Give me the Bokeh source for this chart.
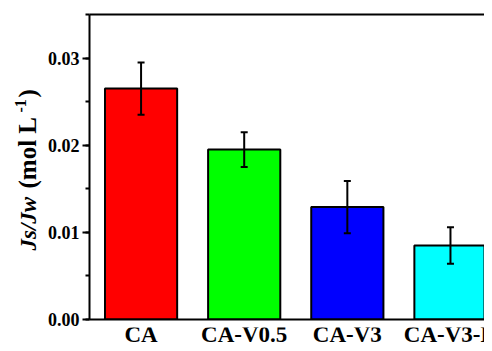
from bokeh.plotting import figure
from bokeh.layouts import row, column
from bokeh.models import (Range1d, FixedTicker, SingleIntervalTicker, LinearAxis,
                          ColumnDataSource, Whisker, TeeHead, Label, PrintfTickFormatter)
from bokeh.core.properties import value
from bokeh.embed import file_html
from bokeh.resources import INLINE

categories = ["CA", "CA-V0.5", "CA-V3", "CA-V3-D"]
values = [0.0265, 0.0195, 0.0129, 0.0085]
errors = [0.0030, 0.0020, 0.0030, 0.0021]
colors = ["#ff0000", "#00ff00", "#0000ff", "#00ffff"]

xs = list(range(len(categories)))
src = ColumnDataSource(dict(
    x=xs, top=values, color=colors, name=categories,
    upper=[v + e for v, e in zip(values, errors)],
    lower=[v - e for v, e in zip(values, errors)],
))

FONT = "Liberation Serif"
LEFT_W = 44

# ---------------- main plot ----------------
p = figure(width=484 - LEFT_W, height=327, output_backend="svg", toolbar_location=None,
           x_range=Range1d(-0.5, 3.33), y_range=Range1d(0, 0.035),
           min_border_left=88 - LEFT_W, min_border_right=0, min_border_top=14,
           min_border_bottom=8)
p.outline_line_color = None
p.xgrid.visible = False
p.ygrid.visible = False

p.vbar(x="x", top="top", width=0.7, fill_color="color", line_color="black",
       line_width=2, source=src)

w = Whisker(base="x", upper="upper", lower="lower", source=src, level="annotation",
            line_width=2, line_color="black",
            upper_head=TeeHead(size=7, line_width=2, line_color="black"),
            lower_head=TeeHead(size=7, line_width=2, line_color="black"))
p.add_layout(w)

xa = p.xaxis[0]
xa.ticker = FixedTicker(ticks=xs)
xa.major_label_text_font_size = "0px"
xa.major_tick_line_color = None
xa.minor_tick_line_color = None
xa.major_tick_out = 0
xa.major_tick_in = 0
xa.major_label_standoff = 0
xa.axis_line_width = 2

ya = p.yaxis[0]
ya.ticker = SingleIntervalTicker(interval=0.01, num_minor_ticks=2)
ya.formatter = PrintfTickFormatter(format="%.2f")
ya.axis_line_width = 2
ya.major_tick_line_width = 2
ya.minor_tick_line_width = 2
ya.major_tick_out = 7
ya.major_tick_in = 0
ya.minor_tick_out = 4
ya.minor_tick_in = 0
ya.major_label_text_font = FONT
ya.major_label_text_font_style = "bold"
ya.major_label_text_font_size = "18px"
ya.major_label_text_color = "black"
ya.major_label_standoff = 3

top_axis = LinearAxis(ticker=FixedTicker(ticks=[]), axis_line_width=2,
                      major_label_text_font_size="0px",
                      major_tick_line_color=None, minor_tick_line_color=None,
                      major_tick_out=0, major_tick_in=0)
p.add_layout(top_axis, "above")

# ---------------- category names under the bars ----------------
b = figure(width=484 - LEFT_W, height=16, output_backend="svg", toolbar_location=None,
           x_range=p.x_range, y_range=Range1d(0, 1),
           x_axis_location=None, y_axis_location=None,
           min_border_left=88 - LEFT_W, min_border_right=0, min_border_top=0,
           min_border_bottom=0)
b.outline_line_color = None
b.xgrid.visible = False
b.ygrid.visible = False
b.text(x="x", y=0, text="name", source=src, y_offset=-9,
       text_font=value(FONT), text_font_style="bold", text_font_size="23px",
       text_color="black", text_align="center", text_baseline="alphabetic")

# ---------------- y axis title ----------------
t = figure(width=LEFT_W, height=343, output_backend="svg", toolbar_location=None,
           x_range=Range1d(0, 1), y_range=Range1d(0, 1),
           x_axis_location=None, y_axis_location=None,
           min_border_left=0, min_border_right=0, min_border_top=0, min_border_bottom=0)
t.outline_line_color = None
t.xgrid.visible = False
t.ygrid.visible = False
common = dict(x_units="screen", y_units="screen", angle=1.5708,
              text_font=FONT, text_color="black", text_align="left",
              text_baseline="alphabetic")
t.add_layout(Label(x=28, y=93, text="Js/Jw", text_font_size="23px",
                   text_font_style="bold italic", **common))
t.add_layout(Label(x=27, y=155, text="(mol L", text_font_size="25px",
                   text_font_style="bold", **common))
t.add_layout(Label(x=20, y=231, text="-1", text_font_size="16px",
                   text_font_style="bold", **common))
t.add_layout(Label(x=27, y=246, text=")", text_font_size="25px",
                   text_font_style="bold", **common))

layout = row(t, column(p, b, spacing=0), spacing=0)
open("out.html", "w").write(file_html(layout, INLINE))
